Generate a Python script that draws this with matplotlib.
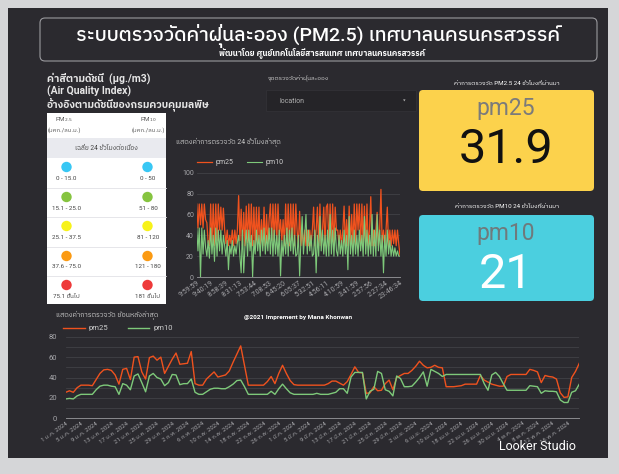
import matplotlib
matplotlib.use("Agg")
import matplotlib.pyplot as plt
from matplotlib import font_manager as fm
from matplotlib.ft2font import FT2Font
from matplotlib.patches import FancyBboxPatch, Rectangle, Circle

# ---------------- data ----------------
hour_ticks = ["9:59:59", "9:40:19", "8:58:39", "8:31:13", "7:53:44", "7:08:53", "6:45:20",
              "6:05:37", "5:32:51", "4:56:11", "4:10:59", "3:41:59", "2:57:56", "2:27:34", "23:46:34"]
pm25_24h = [70, 47, 70, 50, 70, 47, 70, 55,
            52, 33, 30,
            70, 32, 70, 30, 70, 35, 70, 45,
            67, 45, 66,
            45, 32, 45, 30, 40, 32, 45, 30, 45, 32, 45,
            78, 35,
            65, 30, 62, 30, 68, 33,
            70, 35, 70, 30,
            67, 30, 67, 32, 67, 30, 55, 30, 67, 30, 60, 32, 55,
            70, 35, 70, 35, 70, 35, 70, 40,
            55, 35, 55, 30,
            70, 32, 70, 30, 70, 35, 70, 30, 70,
            45, 30, 63, 30, 45, 30, 45, 30, 45, 30, 45, 30, 45,
            67, 30, 45, 67, 30, 70, 30, 45, 67, 30, 67,
            70, 30, 70, 32, 70, 30, 67, 45,
            45, 30, 45, 30, 45,
            68, 30, 55, 30, 68, 30, 60, 30,
            70, 30, 70, 45, 70, 30, 70, 30, 68, 30, 70, 30, 45,
            77, 30, 45, 30, 45, 62, 30,
            45, 84, 30, 45,
            30, 45, 67, 30, 45,
            30, 45, 32, 45, 30, 45, 32, 21]
pm10_24h = [47, 25, 47, 0, 47, 22, 45, 28,
            20, 35, 18,
            47, 22, 40, 15, 47, 20, 45, 25,
            45, 22, 40,
            30, 20, 35, 7, 30, 22, 35, 20, 30, 22, 33,
            40, 20,
            4, 45, 4, 30, 45, 20,
            45, 25, 40, 0,
            35, 22, 45, 25, 40, 20, 45, 25, 47, 22, 40, 25, 47,
            22, 47, 20, 45, 22, 40, 20, 45,
            1, 35, 20, 40,
            22, 47, 20, 45, 25, 47, 22, 40, 20,
            22, 40, 1, 35, 58, 22, 40, 60, 22, 45, 25, 40, 20,
            22, 45, 4, 40, 20, 58, 25, 45, 22, 40, 20,
            45, 20, 60, 22, 45, 20, 47, 25,
            20, 40, 22, 35, 20,
            45, 22, 40, 7, 58, 22, 40, 20,
            45, 22, 40, 20, 45, 25, 40, 20, 58, 22, 45, 20, 40,
            22, 60, 20, 45, 20, 60, 25,
            45, 20, 40, 4,
            40, 20, 45, 22, 35,
            20, 30, 20, 28, 20, 25, 20, 20]

day_ticks = ["1 ม.ค. 2024", "5 ม.ค. 2024", "9 ม.ค. 2024", "13 ม.ค. 2024", "17 ม.ค. 2024",
             "21 ม.ค. 2024", "25 ม.ค. 2024", "29 ม.ค. 2024", "2 ก.พ. 2024", "6 ก.พ. 2024",
             "10 ก.พ. 2024", "14 ก.พ. 2024", "18 ก.พ. 2024", "22 ก.พ. 2024", "26 ก.พ. 2024",
             "1 มี.ค. 2024", "5 มี.ค. 2024", "9 มี.ค. 2024", "13 มี.ค. 2024", "17 มี.ค. 2024",
             "21 มี.ค. 2024", "25 มี.ค. 2024", "29 มี.ค. 2024", "2 เม.ย. 2024", "6 เม.ย. 2024",
             "10 เม.ย. 2024", "18 เม.ย. 2024", "22 เม.ย. 2024", "26 เม.ย. 2024", "30 เม.ย. 2024",
             "4 พ.ค. 2024", "8 พ.ค. 2024", "12 พ.ค. 2024", "16 พ.ค. 2024"]
pm25_daily = [25.5, 27, 25.5, 30, 32.5, 32.5, 32.5, 32, 38, 44,
              47.5, 48, 47, 42.5, 33.5, 48, 49, 38, 60, 60.5,
              45.5, 38.5, 59.5, 61, 57, 60, 44, 51, 58, 64,
              53, 53.5, 54, 65.5, 34, 32.5, 32.5, 38.5, 42, 45.5,
              40.5, 41.5, 42.5, 46.5, 55, 63, 71, 52, 32.5, 32.5,
              32.5, 32.5, 32.5, 36, 41, 34, 44, 52, 44, 37,
              33, 32.5, 32.5, 32.5, 32.5, 32.5, 32.5, 32.5, 32.5, 34,
              36.5, 36.5, 34.5, 32.5, 36, 43, 50.5, 45, 44.5, 24.5,
              25, 31, 27, 27.5, 34, 37.5, 28, 40, 42, 44,
              44, 47, 51, 56, 52, 49.5, 50, 52, 50, 49.5,
              31, 31, 31, 31.5, 32, 33.5, 33.5, 33.5, 33.5, 42,
              37.5, 35.5, 33.5, 32.5, 31.5, 31.5, 41, 43, 43, 43,
              43, 43, 48, 47, 45.5, 35, 42, 41, 40.5, 38.5,
              25, 20.5, 21, 40, 46, 54]
pm10_daily = [19, 19.5, 19, 22, 23.5, 23.5, 23.5, 23.5, 28, 31.5,
              32.5, 32.5, 31.5, 31, 23.5, 34, 32.5, 28, 41.5, 43.5,
              35, 26, 41.5, 44, 40, 38.5, 32, 35, 43, 42.5,
              33, 34, 34, 38.5, 25.5, 23.5, 23.5, 26, 28.5, 29.5,
              29.5, 29, 29, 31, 33.5, 37, 37.5, 31, 23.5, 23.5,
              23.5, 23.5, 23.5, 23.5, 26.5, 23.5, 29, 33.5, 29, 25,
              23.5, 23.5, 23.5, 23.5, 23.5, 23.5, 24.5, 23.5, 23.5, 23.5,
              24.5, 25.5, 29, 29, 24.5, 40.5, 45, 45, 45, 19,
              26.5, 28.5, 46, 44, 28, 26.5, 22, 41.5, 39, 31,
              31, 31.5, 35.5, 40, 45.5, 31.5, 48, 46, 44, 41,
              43, 43, 43, 43, 43, 43, 43, 43, 43, 43,
              34, 27.5, 42.5, 45, 41, 34, 27.5, 27.5, 27.5, 27.5,
              27.5, 27.5, 32, 31.5, 31, 24.5, 27, 26.5, 26.5, 26,
              18, 15.5, 15.5, 25.5, 27, 33.5]

aqi_pm25_ranges = ["0 - 15.0", "15.1 - 25.0", "25.1 - 37.5", "37.6 - 75.0", "75.1 ขึ้นไป"]
aqi_pm10_ranges = ["0 - 50", "51 - 80", "81 - 120", "121 - 180", "181 ขึ้นไป"]
aqi_colors = ["#38c7f4", "#86c440", "#f7f21a", "#fb9a12", "#ee3a3a"]

kpi_pm25 = "31.9"
kpi_pm10 = "21"

# ---------------- fonts ----------------
def thai_families():
    fams = []
    for f in fm.fontManager.ttflist:
        try:
            cmap = FT2Font(f.fname).get_charmap()
        except Exception:
            continue
        if 0x0E01 in cmap and 0x0E48 in cmap and f.name not in fams:
            fams.append(f.name)
    fams.sort(key=lambda n: (0 if "Sans" in n else 1, n))
    return fams

plt.rcParams['font.family'] = ['Roboto'] + thai_families() + ['DejaVu Sans']

ORANGE = "#f0521e"
GREEN = "#7ec97a"
PANEL = "#2b2a2f"
GRID = "#414146"
TICK = "#a6a6aa"

W, H = 619, 474
fig = plt.figure(figsize=(W / 100, H / 100), dpi=100, facecolor="#d5d6d8")
bg = fig.add_axes([0, 0, 1, 1], zorder=0)
bg.set_xlim(0, W)
bg.set_ylim(H, 0)
bg.axis("off")


def px_axes(x0, y0, x1, y1):
    return fig.add_axes([x0 / W, 1 - y1 / H, (x1 - x0) / W, (y1 - y0) / H], zorder=2)


# dark panel
bg.add_patch(Rectangle((8, 8), 600, 450, facecolor=PANEL, edgecolor="none"))
# title box
bg.add_patch(FancyBboxPatch((40, 18), 557, 43, boxstyle="round,pad=0,rounding_size=5",
                            facecolor="none", edgecolor="#9a9a9e", lw=0.8))
bg.text(318, 36, "ระบบตรวจวัดค่าฝุ่นละออง (PM2.5) เทศบาลนครนครสวรรค์", color="white",
        fontsize=14, ha="center", va="center", fontweight="medium")
bg.text(322, 53, "พัฒนาโดย ศูนย์เทคโนโลยีสารสนเทศ เทศบาลนครนครสวรรค์", color="white",
        fontsize=5.8, ha="center", va="center", fontweight="bold")

# left legend text
bg.text(47, 78.5, "ค่าสีตามดัชนี  (µg./m3)", color="#e6e6e6", fontsize=7.5, va="center",
        fontweight="bold")
bg.text(47, 91, "(Air Quality Index)", color="#e6e6e6", fontsize=7.5, va="center",
        fontweight="bold")
bg.text(47, 104, "อ้างอิงตามดัชนีของกรมควบคุมมลพิษ", color="#e6e6e6", fontsize=7.5, va="center",
        fontweight="bold")

# AQI table
bg.add_patch(Rectangle((47, 113), 119, 191, facecolor="white", edgecolor="none"))
bg.add_patch(Rectangle((47, 138), 119, 20, facecolor="#e9eaef", edgecolor="none"))
bg.text(64, 120, "PM$_{2.5}$", color="#555555", fontsize=4.5, ha="center", va="center")
bg.text(64, 130, "(มคก./ลบ.ม.)", color="#555555", fontsize=4.3, ha="center", va="center")
bg.text(148, 120, "PM$_{10}$", color="#555555", fontsize=4.5, ha="center", va="center")
bg.text(148, 130, "(มคก./ลบ.ม.)", color="#555555", fontsize=4.3, ha="center", va="center")
bg.text(106, 148, "เฉลี่ย 24 ชั่วโมงต่อเนื่อง", color="#444444", fontsize=4.8, ha="center", va="center")
row_top = [158, 188, 217, 247, 276]
for k, (a, b, c) in enumerate(zip(aqi_pm25_ranges, aqi_pm10_ranges, aqi_colors)):
    y0 = row_top[k]
    if k > 0:
        bg.plot([47, 166], [y0, y0], color="#e2e2e6", lw=0.6)
    bg.add_patch(Circle((66.5, y0 + 9), 5.2, facecolor=c, edgecolor="none"))
    bg.add_patch(Circle((147.5, y0 + 9), 5.2, facecolor=c, edgecolor="none"))
    bg.text(66, y0 + 20, a, color="#444444", fontsize=4.5, ha="center", va="center")
    bg.text(148, y0 + 20, b, color="#444444", fontsize=4.5, ha="center", va="center")

# dropdown
bg.text(268, 78, "จุดตรวจวัดค่าฝุ่นละออง", color="#d0d0d0", fontsize=4.5, va="center")
bg.add_patch(Rectangle((266, 90), 150, 21, facecolor="#252428", edgecolor="#323136", lw=0.6))
bg.text(279, 101, "location", color="#b0b0b0", fontsize=5, va="center")
bg.text(404, 101, "▾", color="#b0b0b0", fontsize=4.5, va="center", ha="center")

# KPI cards
bg.text(507, 83, "ค่าการตรวจวัด PM2.5 24 ชั่วโมงที่ผ่านมา", color="white", fontsize=4.5,
        ha="center", va="center")
bg.add_patch(FancyBboxPatch((419, 90), 175, 101, boxstyle="round,pad=0,rounding_size=4",
                            facecolor="#fcd24c", edgecolor="none"))
bg.text(506, 108, "pm25", color="#7b7b7b", fontsize=16.5, ha="center", va="center")
bg.text(506, 150, kpi_pm25, color="#111111", fontsize=35, ha="center", va="center")
bg.text(507, 207, "ค่าการตรวจวัด PM10 24 ชั่วโมงที่ผ่านมา", color="white", fontsize=4.5,
        ha="center", va="center")
bg.add_patch(FancyBboxPatch((419, 215), 175, 86, boxstyle="round,pad=0,rounding_size=4",
                            facecolor="#4bcfdf", edgecolor="none"))
bg.text(506, 233, "pm10", color="#6f7a7c", fontsize=16.5, ha="center", va="center")
bg.text(506, 275, kpi_pm10, color="white", fontsize=35, ha="center", va="center")

# ---------------- middle chart (24 h) ----------------
bg.text(176, 142, "แสดงค่าการตรวจวัด 24 ชั่วโมงล่าสุด", color="#c8c8c8", fontsize=5, va="center")
ax1 = px_axes(196.7, 172.7, 400, 277)
ax1.set_facecolor("none")
x24 = list(range(len(pm25_24h)))
l1, = ax1.plot(x24, pm25_24h, color=ORANGE, lw=0.9, label="pm25")
l2, = ax1.plot(x24, pm10_24h, color=GREEN, lw=0.8, label="pm10")
ax1.set_xlim(0, len(x24) - 1)
ax1.set_ylim(0, 100)
ax1.set_yticks([0, 20, 40, 60, 80, 100])
ax1.grid(axis="y", color=GRID, lw=0.6)
ax1.set_axisbelow(True)
for s in ["top", "right", "left"]:
    ax1.spines[s].set_visible(False)
ax1.spines["bottom"].set_color("#8a8a8e")
ax1.spines["bottom"].set_linewidth(0.7)
n = len(hour_ticks)
tpos = [i * (len(x24) - 1) / (n - 1) for i in range(n)]
ax1.set_xticks(tpos)
ax1.set_xticklabels(hour_ticks, rotation=35, ha="right", va="top", rotation_mode="anchor")
ax1.tick_params(axis="both", length=0, colors=TICK, labelsize=5, pad=2)
ax1.legend(handles=[l1, l2], loc="lower left", bbox_to_anchor=(0.0, 1.06), ncol=2, frameon=False,
           fontsize=5, labelcolor="#cfcfcf", handlelength=2.2, columnspacing=2.0,
           handletextpad=0.5, borderaxespad=0, borderpad=0)

bg.text(298, 318, "@2021 Imprement by Mana Khonwan", color="white", fontsize=4.6,
        ha="center", va="center", fontweight="bold")

# ---------------- bottom chart (daily) ----------------
bg.text(56, 315, "แสดงค่าการตรวจวัด ย้อนหลังล่าสุด", color="#c8c8c8", fontsize=5, va="center")
ax2 = px_axes(65.7, 334.7, 579.3, 418.3)
ax2.set_facecolor("none")
xd = list(range(len(pm25_daily)))
m1, = ax2.plot(xd, pm25_daily, color=ORANGE, lw=1.0, label="pm25")
m2, = ax2.plot(xd, pm10_daily, color=GREEN, lw=1.0, label="pm10")
ax2.set_xlim(0, len(xd) - 1)
ax2.set_ylim(0, 82)
ax2.set_yticks([0, 20, 40, 60, 80])
ax2.set_yticks([10, 30, 50, 70], minor=True)
ax2.grid(axis="y", which="both", color=GRID, lw=0.6)
ax2.set_axisbelow(True)
for s in ["top", "right", "left"]:
    ax2.spines[s].set_visible(False)
ax2.spines["bottom"].set_color("#8a8a8e")
ax2.spines["bottom"].set_linewidth(0.7)
ax2.set_xticks(list(range(0, len(xd), 4))[:len(day_ticks)])
ax2.set_xticklabels(day_ticks, rotation=35, ha="right", va="top", rotation_mode="anchor")
ax2.tick_params(axis="both", which="both", length=0, colors=TICK, labelsize=4.3, pad=2)
ax2.tick_params(axis="y", labelsize=5.5, pad=6)
ax2.legend(handles=[m1, m2], loc="lower left", bbox_to_anchor=(-0.005, 1.04), ncol=2, frameon=False,
           fontsize=5.5, labelcolor="#cfcfcf", handlelength=2.8, columnspacing=2.6,
           handletextpad=0.5, borderaxespad=0, borderpad=0)

bg.text(537, 446, "Looker Studio", color="white", fontsize=9, ha="center", va="center")

fig.savefig("out.png", dpi=100, facecolor=fig.get_facecolor())
